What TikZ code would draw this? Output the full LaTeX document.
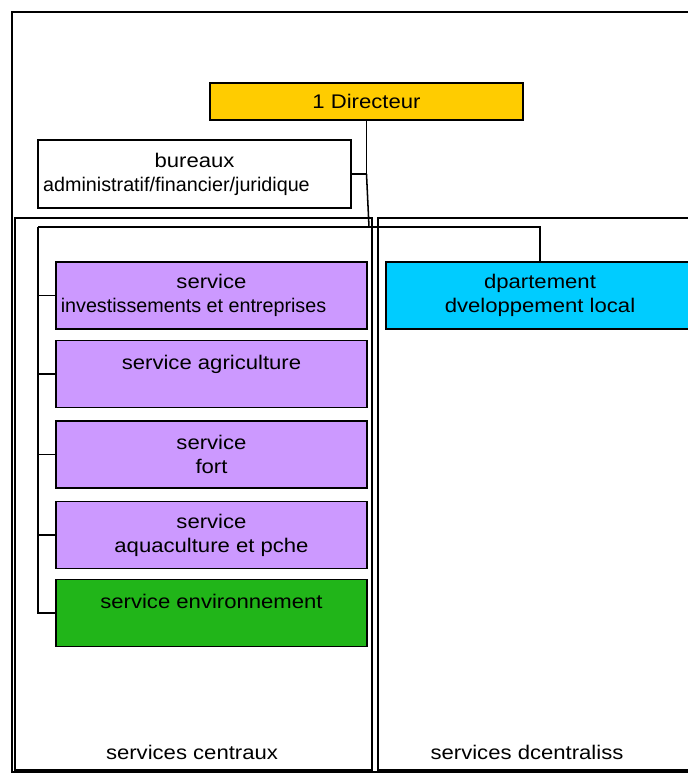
\documentclass[tikz,border=0pt]{standalone}
\usepackage{fontspec}
\setmainfont{Liberation Sans}[FakeStretch=1.12]
\newfontfamily\plainfont{Liberation Sans}
\usepackage{tikz}
\usetikzlibrary{positioning}
\definecolor{jaune}{RGB}{255,204,0}
\definecolor{violet}{RGB}{204,153,255}
\definecolor{cyan}{RGB}{0,204,255}
\definecolor{vert}{RGB}{33,181,25}
\tikzstyle{cadre}=[draw,line width=1.6pt]
\tikzstyle{colonne}=[draw,line width=1.9pt]
\tikzstyle{boite}=[
        rectangle,
        draw,
        line width=1.3pt,
        inner sep=0pt,
        align=center,
        font=\fontsize{14.8}{18}\selectfont
]
\tikzstyle{serv}=[boite,fill=violet,minimum width=233.25pt,minimum height=50.25pt]
\tikzstyle{lien}=[line width=1.15pt]
\tikzstyle{titre}=[inner sep=0pt,font=\fontsize{14.8}{18}\selectfont]

\begin{document}
\begin{tikzpicture}[x=0.75pt,y=-0.75pt]
\clip (0,0) rectangle (688,774);
\fill[white] (0,0) rectangle (688,774);
%Frames
\draw[cadre] (12,12) rectangle (704,772);
\draw[colonne] (15,218) rectangle (372,770);
\draw[colonne] (378,218) rectangle (704,770);
%Nodes
\node[boite,fill=jaune,minimum width=234.75pt,minimum height=27.75pt] (dir) at (366.5,101.5) {1 Directeur};
\node[boite,fill=white,minimum width=234.75pt,minimum height=51pt] (bur) at (194.5,174) {bureaux\\{\plainfont administratif/financier/juridique}\hspace*{27pt}};
\node[boite,fill=cyan,minimum width=231pt,minimum height=50.25pt] (dep) at (540,295.5) {dpartement\\dveloppement local};
\node[serv] (s1) at (211.5,295.5) {service\\{\plainfont investissements et entreprises}\hspace*{27pt}};
\node[serv] (s2) at (211.5,374) {service agriculture\\~};
\node[serv] (s3) at (211.5,454.5) {service\\fort};
\node[serv] (s4) at (211.5,535) {service\\aquaculture et pche};
\node[serv,fill=vert] (s5) at (211.5,613) {service environnement\\~};
\node[titre] (centr) at (192,752) {services centraux};
\node[titre] (decentr) at (527,752) {services dcentraliss};
%Drawing Edges
\coordinate (hub) at (366.5,174);
\coordinate (bus) at (369,227);
\coordinate (busL) at (38,227);
\draw[lien] (dir.south) -- (hub) -- (bur.east);
\draw[lien] (hub) -- (bus);
\draw[lien] (busL) -- (bus) -| (dep.north);
\draw[lien] (busL) |- (s5.west);
\foreach \s in {s1,s2,s3,s4}
  \draw[lien] (busL |- \s.west) -- (\s.west);
\end{tikzpicture}
\end{document}
